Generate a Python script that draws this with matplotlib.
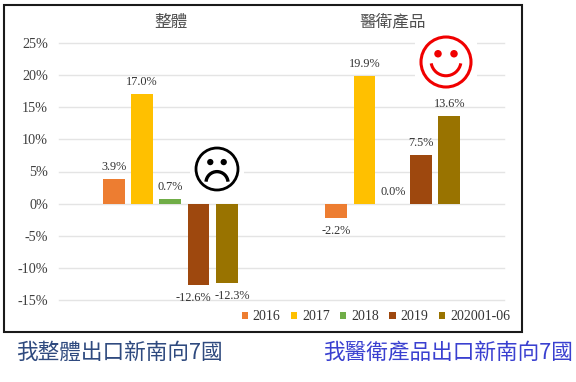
import matplotlib
matplotlib.use('Agg')
import matplotlib.pyplot as plt
from matplotlib.patches import Circle, Arc, Rectangle
import numpy as np

categories = ['整體', '醫衛產品']
years = ['2016', '2017', '2018', '2019', '202001-06']
colors = ['#ED7D31', '#FFC000', '#70AD47', '#9E480E', '#997300']
v2016 = [3.9, -2.2]
v2017 = [17.0, 19.9]
v2018 = [0.7, 0.0]
v2019 = [-12.6, 7.5]
v2020 = [-12.3, 13.6]
series = [v2016, v2017, v2018, v2019, v2020]
yticks = [-15, -10, -5, 0, 5, 10, 15, 20, 25]

W, H = 576, 382
cjk = ['Noto Sans CJK TC', 'DejaVu Sans']
serif = 'Liberation Serif'
plt.rcParams['font.family'] = serif

fig = plt.figure(figsize=(W / 100, H / 100), dpi=100)
ax = fig.add_axes([59 / W, 1 - 300 / H, 445 / W, 257 / H])

step = 0.127
width = 0.0985
x = np.arange(len(categories))
for i in range(5):
    ax.bar(x + (i - 2) * step, series[i], width, color=colors[i], label=years[i], zorder=3)
    for j in range(2):
        val = series[i][j]
        dx = 0
        if val == -12.6:
            dx = -5
        if val == -12.3:
            dx = 6
        dy = 12 if val >= 0 else -13
        ax.annotate('%.1f%%' % val, (x[j] + (i - 2) * step, val), xytext=(dx * 0.72, dy * 0.72),
                    textcoords='offset points', ha='center', va='center',
                    fontsize=8.8, color='#333333', zorder=4)

ax.set_xlim(-0.5, 1.5)
ax.set_ylim(-15, 25)
ax.set_yticks(yticks)
ax.set_yticklabels(['%d%%' % t for t in yticks], fontsize=10.2, color='#404040')
ax.set_xticks([])
ax.tick_params(axis='y', length=0, pad=8)
ax.grid(axis='y', color='#E4E4E4', lw=1, zorder=0, clip_on=False)
ax.set_axisbelow(True)
for s in ax.spines.values():
    s.set_visible(False)

fig.legend(*ax.get_legend_handles_labels(), loc='center right', bbox_to_anchor=(510 / W, 1 - 317 / H), ncol=5,
           frameon=False, fontsize=10, handlelength=0.45, handleheight=0.45, handletextpad=0.35,
           columnspacing=0.75, labelcolor='#333333', borderaxespad=0, borderpad=0)

# overlay in pixels for frame, faces and captions
ov = fig.add_axes([0, 0, 1, 1], facecolor='none')
ov.set_xlim(0, W)
ov.set_ylim(0, H)
ov.axis('off')
ov.add_patch(Rectangle((3.5, H - 332), 518, 327, fill=False, ec='#1A1A1A', lw=1.5))


def face(cx, cy, r, color, happy, lw):
    cy = H - cy
    ov.add_patch(Rectangle((cx - r - 6, cy - r - 6), 2 * r + 12, 2 * r + 12, fc='white', ec='none'))
    ov.add_patch(Circle((cx, cy), r, fill=False, ec=color, lw=lw))
    off = r * 0.32
    eye_y = cy + r * 0.33
    ov.add_patch(Circle((cx - off, eye_y), r * 0.15, fc=color, ec='none'))
    ov.add_patch(Circle((cx + off, eye_y), r * 0.15, fc=color, ec='none'))
    if happy:
        ov.add_patch(Arc((cx, cy + r * 0.05), r * 1.2, r * 1.2, theta1=190, theta2=350, ec=color, lw=lw))
    else:
        ov.add_patch(Arc((cx, cy - r * 0.65), r * 1.05, r * 1.05, theta1=5, theta2=175, ec=color, lw=lw + 0.4))


face(217, 169, 21, 'black', False, 2.0)
face(446, 62, 25, '#F00000', True, 2.2)

fig.text(171 / W, 1 - 22 / H, categories[0], family=cjk, fontsize=12, color='#505050', ha='center', va='center')
fig.text(393 / W, 1 - 22 / H, categories[1], family=cjk, fontsize=12, color='#505050', ha='center', va='center')
fig.text(16 / W, 1 - 353 / H, '我整體出口新南向7國', family=cjk, fontsize=15.6, color='#2F4A7F', ha='left', va='center')
fig.text(323 / W, 1 - 353 / H, '我醫衛產品出口新南向7國', family=cjk, fontsize=15.6, color='#3A40D0', ha='left', va='center')

fig.savefig('out.png', dpi=100)
